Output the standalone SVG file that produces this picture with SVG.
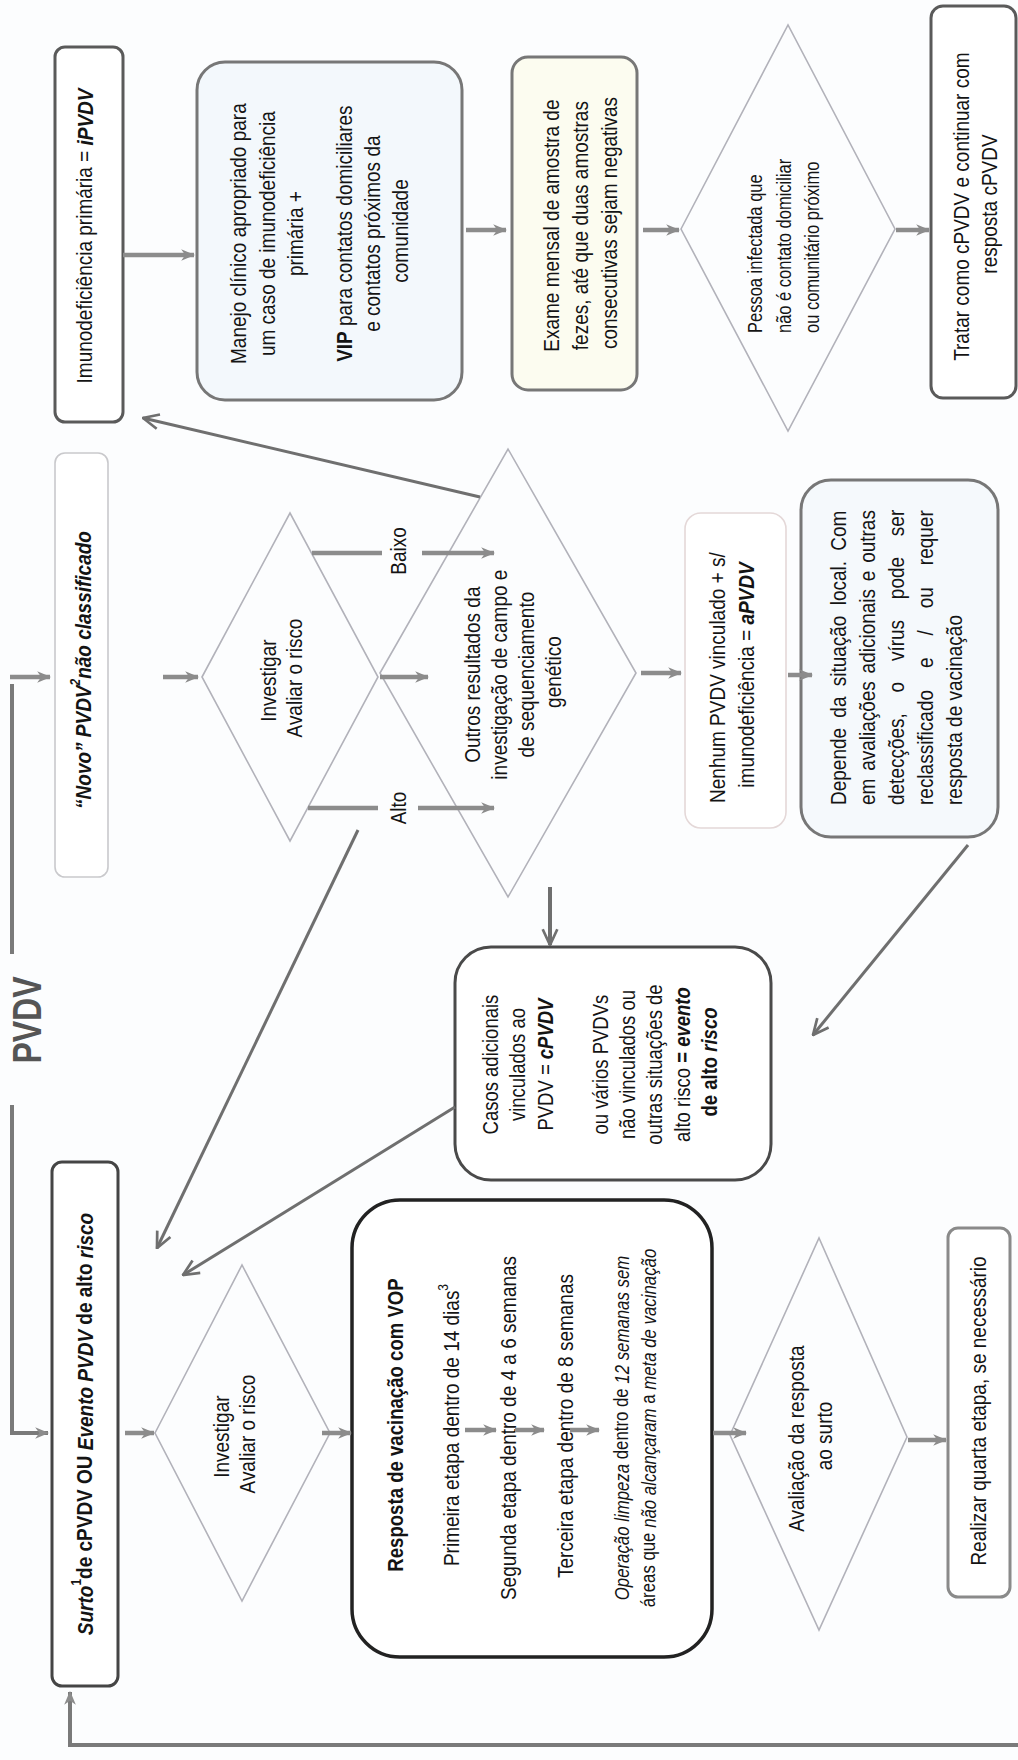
<svg xmlns="http://www.w3.org/2000/svg" width="1018" height="1760" viewBox="0 0 1018 1760">
<defs>
<style>
.box{fill:#ffffff;stroke:#5a5a5a;stroke-width:3}
.dia{fill:none;stroke:#b2b2ba;stroke-width:1.6}
.t{font-family:"Liberation Sans",Arial,sans-serif;font-size:19px;fill:#141414;text-anchor:middle;dominant-baseline:central}
.s{text-anchor:start}
.b{font-weight:bold}
.i{font-style:italic}
.c{stroke:#8c8c8c;stroke-width:4.5;fill:none}
.d{stroke:#6f6f6f;stroke-width:3;fill:none}
.br{stroke:#7a7a7a;stroke-width:4;fill:none}
</style>
<marker id="ah" viewBox="0 0 12 12" refX="11" refY="6" markerWidth="14" markerHeight="14" markerUnits="userSpaceOnUse" orient="auto">
<path d="M0,1 L12,6 L0,11 L3.5,6 z" fill="#8c8c8c"/>
</marker>
<marker id="ch" viewBox="0 0 16 16" refX="15" refY="8" markerWidth="18" markerHeight="18" markerUnits="userSpaceOnUse" orient="auto">
<path d="M1,1.5 L15,8 L1,14.5" fill="none" stroke="#6f6f6f" stroke-width="2.4"/>
</marker>
</defs>
<rect width="1018" height="1760" fill="#fcfdfe"/>

<g id="title">
<text class="t b" transform="translate(27,1020) rotate(-90) scale(1,1.25)" style="font-size:32px;fill:#555">PVDV</text>
</g>

<g id="n-ipvdv">
<rect class="box" x="55" y="47" width="68" height="375" rx="10"/>
<text class="t" transform="translate(84,236) rotate(-90) scale(1,1.2)">Imunodeficiência primária = <tspan class="b i">iPVDV</tspan></text>
</g>

<g id="n-manejo">
<rect class="box" x="197" y="62" width="265" height="338" rx="28" style="fill:#f3f8fc;stroke:#777"/>
<text class="t" transform="translate(237,231) rotate(-90) scale(1,1.2)">
<tspan x="0" dy="0">Manejo clínico apropriado para</tspan>
<tspan x="0" dy="24.2">um caso de imunodeficiência</tspan>
<tspan x="0" dy="23.3">primária +</tspan>
<tspan x="0" dy="40.8"><tspan class="b">VIP</tspan> para contatos domiciliares</tspan>
<tspan x="0" dy="23.3">e contatos próximos da</tspan>
<tspan x="0" dy="23.3">comunidade</tspan>
</text>
</g>

<g id="n-exame">
<rect class="box" x="512" y="57" width="125" height="333" rx="16" style="fill:#fcfcf0;stroke:#777"/>
<text class="t" transform="translate(550,223) rotate(-90) scale(1,1.2)">
<tspan x="0" dy="0">Exame mensal de amostra de</tspan>
<tspan x="0" dy="24.2">fezes, até que duas amostras</tspan>
<tspan x="0" dy="24.2">consecutivas sejam negativas</tspan>
</text>
</g>

<g id="n-pessoa">
<polygon class="dia" points="681,229 788,25 895,229 788,431"/>
<text class="t s" transform="translate(755,333) rotate(-90) scale(1,1.2)" style="font-size:16.5px">
<tspan x="0" dy="0">Pessoa infectada que</tspan>
<tspan x="0" dy="24.2">não é contato domiciliar</tspan>
<tspan x="0" dy="23.3">ou comunitário próximo</tspan>
</text>
</g>

<g id="n-tratar">
<rect class="box" x="931" y="6" width="85" height="392" rx="12"/>
<text class="t" transform="translate(960,204) rotate(-90) scale(1,1.2)">
<tspan x="0" dy="0">Tratar como cPVDV e continuar com</tspan>
<tspan x="0" dy="23.3">resposta cPVDV</tspan>
</text>
</g>

<g id="n-novo">
<rect class="box" x="55" y="453" width="53" height="424" rx="10" style="stroke:#c9c9cc;stroke-width:1.6"/>
<text class="t b i" transform="translate(83,670) rotate(-90) scale(1,1.2)">“Novo” PVDV<tspan baseline-shift="super" style="font-size:12px">2</tspan>não classificado</text>
</g>

<g id="n-investigar1">
<polygon class="dia" points="202,677 290,513 378,677 290,841"/>
<text class="t" transform="translate(267,678) rotate(-90) scale(1,1.2)">
<tspan x="0" dy="0">Investigar</tspan>
<tspan x="0" dy="21.7">Avaliar o risco</tspan>
</text>
</g>

<g id="n-outros">
<polygon class="dia" points="380,673 508,449 636,673 508,897"/>
<text class="t" transform="translate(471,672) rotate(-90) scale(1,1.2)">
<tspan x="0" dy="0">Outros resultados da</tspan>
<tspan x="0" dy="22.5">investigação de campo e</tspan>
<tspan x="0" dy="22.5">de sequenciamento</tspan>
<tspan x="0" dy="22.5">genético</tspan>
</text>
</g>

<g id="n-nenhum">
<rect class="box" x="685" y="513" width="101" height="315" rx="16" style="stroke:#e4d8d8;stroke-width:1.6"/>
<text class="t" transform="translate(716,675) rotate(-90) scale(1,1.2)">
<tspan x="0" dy="0">Nenhum PVDV vinculado + s/</tspan>
<tspan x="0" dy="24.2">imunodeficiência = <tspan class="b i">aPVDV</tspan></tspan>
</text>
</g>

<g id="n-depende">
<rect class="box" x="801" y="480" width="197" height="357" rx="30" style="fill:#f5f9fc;stroke:#777"/>
<text class="t s" transform="translate(837,805) rotate(-90) scale(1,1.2)">
<tspan x="0" dy="0" word-spacing="5">Depende da situação local. Com</tspan>
<tspan x="0" dy="24.2" word-spacing="2.5">em avaliações adicionais e outras</tspan>
<tspan x="0" dy="24.2" word-spacing="15.5">detecções, o vírus pode ser</tspan>
<tspan x="0" dy="24.2" word-spacing="16.7">reclassificado e / ou requer</tspan>
<tspan x="0" dy="24.2">resposta de vacinação</tspan>
</text>
</g>

<g id="n-casos">
<rect class="box" x="455" y="947" width="316" height="233" rx="36" style="stroke:#4a4a4a"/>
<text class="t" transform="translate(490,1062) rotate(-90) scale(1,1.2)" style="font-size:18.5px">
<tspan x="0" dy="0">Casos adicionais</tspan>
<tspan x="0" dy="22.9">vinculados ao</tspan>
<tspan x="0" dy="22.9">PVDV = <tspan class="b i">cPVDV</tspan></tspan>
<tspan x="0" dy="45.8">ou vários PVDVs</tspan>
<tspan x="0" dy="22.9">não vinculados ou</tspan>
<tspan x="0" dy="22.9">outras situações de</tspan>
<tspan x="0" dy="22.9">alto risco <tspan class="b">= <tspan class="i">evento</tspan></tspan></tspan>
<tspan x="0" dy="22.9" class="b">de alto <tspan class="i">risco</tspan></tspan>
</text>
</g>

<g id="n-surto">
<rect class="box" x="52" y="1162" width="66" height="524" rx="10" style="stroke:#454545"/>
<text class="t b" transform="translate(84,1424) rotate(-90) scale(1,1.2)"><tspan class="i">Surto</tspan><tspan baseline-shift="super" style="font-size:12px">1</tspan>de cPVDV OU <tspan class="i">Evento PVDV</tspan> de alto <tspan class="i">risco</tspan></text>
</g>

<g id="n-investigar2">
<polygon class="dia" points="155,1433 242,1265 330,1433 242,1601"/>
<text class="t" transform="translate(220,1434) rotate(-90) scale(1,1.2)">
<tspan x="0" dy="0">Investigar</tspan>
<tspan x="0" dy="21.7">Avaliar o risco</tspan>
</text>
</g>

<g id="n-vop">
<rect class="box" x="352" y="1200" width="360" height="457" rx="48" style="stroke:#222;stroke-width:3.5"/>
<text class="t b" transform="translate(395,1425) rotate(-90) scale(1,1.2)" style="font-size:18.6px">Resposta de vacinação com VOP</text>
<text class="t" transform="translate(451,1425) rotate(-90) scale(1,1.2)">Primeira etapa dentro de 14 dias<tspan baseline-shift="super" style="font-size:12px">3</tspan></text>
<text class="t" transform="translate(508,1428) rotate(-90) scale(1,1.2)">Segunda etapa dentro de 4 a 6 semanas</text>
<text class="t" transform="translate(565,1426) rotate(-90) scale(1,1.2)">Terceira etapa dentro de 8 semanas</text>
<text class="t" transform="translate(621,1428) rotate(-90) scale(1,1.2)" style="font-size:16.8px"><tspan class="i">Operação limpeza</tspan> dentro de <tspan class="i">12 semanas sem</tspan></text>
<text class="t" transform="translate(648,1428) rotate(-90) scale(1,1.2)" style="font-size:16.8px">áreas que <tspan class="i">não alcançaram</tspan> a <tspan class="i">meta de vacinação</tspan></text>
</g>

<g id="n-avaliacao">
<polygon class="dia" points="730,1435 819,1238 907,1437 819,1630"/>
<text class="t" transform="translate(795,1436) rotate(-90) scale(1,1.2)">
<tspan x="0" dy="0">Avaliação da resposta</tspan>
<tspan x="0" dy="23.3">ao surto</tspan>
</text>
</g>

<g id="n-realizar">
<rect class="box" x="948" y="1228" width="62" height="369" rx="10" style="stroke:#8a8a8a"/>
<text class="t" transform="translate(978,1411) rotate(-90) scale(1,1.2)">Realizar quarta etapa, se necessário</text>
</g>

<g id="labels">
<text class="t" transform="translate(398,551) rotate(-90) scale(1,1.2)">Baixo</text>
<text class="t" transform="translate(398,808) rotate(-90) scale(1,1.2)">Alto</text>
</g>

<g id="connectors">
<path class="br" d="M12,954 L12,684"/>
<path class="c" d="M10,677 L50,677" marker-end="url(#ah)"/>
<path class="br" d="M12,1105 L12,1433 L48,1433" marker-end="url(#ah)"/>
<path class="c" d="M123,255 L194,255" marker-end="url(#ah)"/>
<path class="c" d="M466,230 L506,230" marker-end="url(#ah)"/>
<path class="c" d="M643,230 L679,230" marker-end="url(#ah)"/>
<path class="c" d="M896,230 L929,230" marker-end="url(#ah)"/>
<path class="c" d="M163,677 L198,677" marker-end="url(#ah)"/>
<path class="c" d="M380,677 L428,677" marker-end="url(#ah)"/>
<path class="c" d="M312,553 L382,553"/>
<path class="c" d="M422,553 L494,553" marker-end="url(#ah)"/>
<path class="c" d="M308,808 L378,808"/>
<path class="c" d="M418,808 L494,808" marker-end="url(#ah)"/>
<path class="c" d="M641,673 L681,673" marker-end="url(#ah)"/>
<path class="c" d="M788,675 L812,675" marker-end="url(#ah)"/>
<path class="d" d="M968,845 L813,1035" marker-end="url(#ch)"/>
<path class="d" d="M480,497 L143,418" marker-end="url(#ch)"/>
<path class="d" d="M358,830 L157,1248" marker-end="url(#ch)"/>
<path class="d" d="M455,1107 L183,1275" marker-end="url(#ch)"/>
<path class="d" d="M550,887 L550,945" marker-end="url(#ch)" style="stroke-width:4"/>
<path class="c" d="M125,1433 L154,1433" marker-end="url(#ah)"/>
<path class="c" d="M322,1433 L351,1433" marker-end="url(#ah)"/>
<path class="c" d="M465,1430 L496,1430" marker-end="url(#ah)"/>
<path class="c" d="M515,1430 L544,1430" marker-end="url(#ah)"/>
<path class="c" d="M570,1430 L599,1430" marker-end="url(#ah)"/>
<path class="c" d="M713,1433 L746,1433" marker-end="url(#ah)"/>
<path class="c" d="M908,1440 L946,1440" marker-end="url(#ah)"/>
<path class="br" d="M1018,1745 L70,1745 L70,1692" marker-end="url(#ah)"/>
</g>
</svg>
